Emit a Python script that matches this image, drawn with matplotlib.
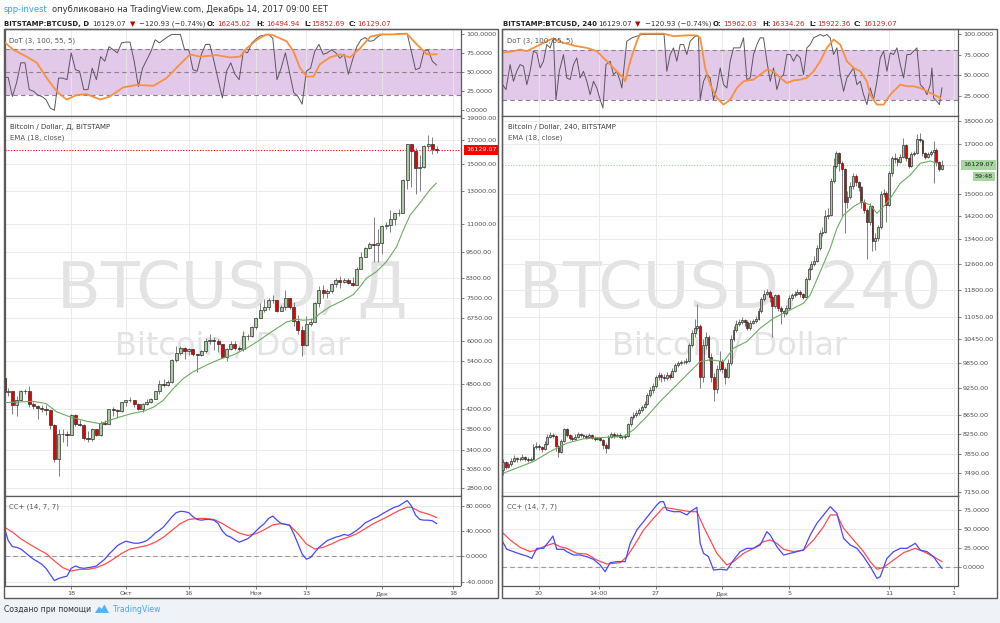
import matplotlib
matplotlib.use('Agg')
import matplotlib.pyplot as plt
import matplotlib.transforms as mtransforms
from matplotlib.patches import Rectangle, Polygon
from matplotlib.ticker import NullLocator
import numpy as np

W, H = 1000, 623

# ---------------- left chart: BTCUSD daily, Sep 2 .. Dec 14 ----------------
l_open0 = 4950
l_close = [4600, 4620, 4300, 4420, 4620, 4620, 4320, 4280, 4240, 4200,
           4180, 3880, 3240, 3700, 3700, 3680, 4090, 3900, 3870, 3620,
           3610, 3790, 3680, 3920, 3890, 4200, 4190, 4160, 4360,
           4400, 4400, 4310, 4220, 4320, 4370, 4440, 4610, 4780, 4770,
           4830, 5440, 5640, 5780, 5700, 5740, 5600, 5580, 5700, 6000,
           6010, 5980, 5900, 5520, 5740, 5890, 5780, 5740, 6140, 6130,
           6450, 6750, 7030, 7160, 7400, 7390, 6990, 7130, 7470, 7160,
           6640, 6350, 5870, 6530, 6600, 7280, 7800, 7700, 7780, 8030,
           8210, 8150, 8230, 8100, 8000, 8700, 9280, 9720, 9890, 9850,
           9950, 10850, 10930, 11290, 11600, 11650, 13800, 16620, 16000, 14700,
           14750, 16480, 16640, 16245.02, 16129.07]
l_high = [4980, 4700, 4620, 4500, 4650, 4680, 4730, 4370, 4300, 4300,
          4300, 4180, 3900, 3800, 3800, 3760, 4110, 4100, 3970, 3900,
          3750, 3820, 3790, 3950, 3980, 4210, 4250, 4200, 4370,
          4400, 4470, 4420, 4350, 4350, 4430, 4460, 4620, 4880, 4920,
          4880, 5450, 5850, 5850, 5800, 5780, 5760, 5600, 5720, 6070,
          6200, 6100, 6050, 5900, 5780, 5980, 5990, 5850, 6300, 6200,
          6470, 6760, 7300, 7450, 7470, 7600, 7410, 7200, 7800, 7490,
          7320, 6870, 6480, 6800, 6740, 7330, 7950, 8000, 7850, 8080,
          8300, 8370, 8300, 8300, 8330, 8770, 9500, 9750, 9980, 11400,
          10700, 10900, 11100, 11800, 11600, 11900, 13850, 16660, 16660, 16300,
          15700, 16550, 17400, 17200, 16494.94]
l_low = [4500, 4500, 4100, 4050, 4400, 4550, 4250, 4200, 4000, 4150,
         4080, 3800, 3200, 2980, 3550, 3480, 3680, 3850, 3850, 3580,
         3550, 3570, 3650, 3660, 3870, 3890, 4050, 4010, 4150,
         4280, 4370, 4250, 4180, 4150, 4300, 4340, 4430, 4560, 4720,
         4730, 4820, 5380, 5560, 5450, 5560, 5550, 5100, 5550, 5620,
         5900, 5710, 5650, 5480, 5400, 5720, 5710, 5680, 5700, 6020,
         6110, 6360, 6750, 6950, 7040, 7300, 6960, 6980, 7040, 7070,
         6480, 6220, 5550, 5850, 6460, 6600, 7130, 7500, 7500, 7680,
         7940, 7900, 8100, 8050, 7980, 8000, 8680, 9260, 9630, 9000,
         9000, 9380, 10700, 10550, 10900, 11450, 11650, 13200, 13300, 12800,
         13000, 14700, 16200, 15800, 15852.69]
l_ema_x = [0, 7, 10, 12.5, 15.7, 19.7, 22.9, 25.2, 27.6, 30.8, 33.2, 35.6, 37.9, 40.3,
           42.7, 45.1, 48.3, 51.4, 54.6, 57.8, 60.2, 62.5, 64.9, 67.3, 69.7, 71.3, 73.7,
           75.2, 77.6, 80.8, 83.2, 84.8, 86.3, 88.7, 91.1, 93.5, 95.1, 96.7, 99, 101.4, 102.9]
l_ema = [4350, 4380, 4330, 4150, 4040, 3950, 3900, 3970, 4040, 4120, 4160, 4250, 4400, 4680,
         4930, 5110, 5290, 5450, 5570, 5770, 5960, 6170, 6390, 6610, 6700, 6670, 6700,
         6900, 7150, 7400, 7620, 7940, 8290, 8580, 9040, 9770, 10650, 11500, 12240, 13110, 13570]
l_dot_fast = [43, 43, 18, 36, 62, 62, 27, 25, 20, 18,
              14, 3, 0, 42, 42, 40, 75, 53, 51, 27,
              27, 55, 40, 70, 64, 83, 79, 75, 88, 89,
              89, 64, 31, 55, 66, 77, 92, 88, 92, 96,
              99, 99, 99, 79, 79, 53, 51, 73, 86, 86,
              64, 40, 16, 51, 62, 47, 40, 77, 75, 88,
              93, 97, 98, 99, 94, 40, 55, 75, 49, 23,
              18, 8, 51, 55, 77, 86, 73, 75, 79, 75,
              68, 73, 47, 66, 83, 92, 95, 90, 91, 96,
              99, 99, 99, 99, 100, 100, 100, 77, 53, 55,
              77, 79, 64, 59]
l_dot_slow_x = [-1, 2.2, 5.4, 7.8, 10.2, 12.5, 14.9, 17.3, 19.7, 22.9,
                25.2, 28.4, 31.6, 35.6, 38.7, 41.9, 44.3, 46.7, 50.6, 53.8,
                56.2, 57.8, 60.2, 62.5, 64.1, 67.3, 68.9, 70.5, 72.1, 73.7,
                75.2, 77.6, 80.0, 82.4, 84.8, 87.2, 89.6, 92.7, 95.9, 98.3,
                100.7, 103]
l_dot_slow = [94, 79, 70, 62, 42, 25, 14, 20, 21, 14,
              18, 30, 33, 32, 42, 60, 73, 70, 72, 69,
              70, 81, 92, 99, 98, 90, 77, 55, 44, 44,
              60, 69, 73, 69, 81, 96, 99, 99, 100, 86,
              73, 73]
l_cc_fast = [46.8, 25.3, 15.6, 14.5, 11.8, 6.5, 1.1, -4.3, -8.1, -12.4,
             -18.8, -28.5, -38.2, -34.9, -32.8, -31.2, -18.8, -15.1, -17.7, -18.8,
             -17.7, -16.7, -15.1, -9.7, -4.3, 3.8, 10.2, 17.2, 21.0, 24.2,
             22.6, 21.0, 21.0, 22.6, 25.3, 30.6, 37.1, 41.4, 46.8, 54.8,
             62.9, 69.4, 71.5, 71.0, 69.4, 62.9, 58.6, 57.5, 58.6, 58.6,
             57.5, 52.2, 40.3, 33.3, 30.6, 26.3, 22.6, 25.3, 28.0, 33.3,
             40.3, 46.8, 52.2, 60.2, 64.0, 57.5, 52.2, 51.1, 49.5, 36.0,
             19.9, 3.8, -4.3, -1.6, 6.5, 14.5, 19.9, 25.3, 28.0, 30.6,
             32.3, 34.9, 33.3, 37.1, 41.4, 46.8, 53.2, 56.5, 60.2, 62.9,
             67.2, 71.0, 74.7, 78.0, 80.1, 84.4, 88.7, 80.1, 65.6, 58.6,
             57.5, 57.5, 56.5, 52.2]
l_cc_slow_x = list(range(0, 97, 2)) + [97, 99, 101, 103]
l_cc_slow = [46.8, 38.7, 28.0, 19.9, 11.8, 4.8, -7.0, -17.7, -23.1, -20.4,
             -20.4, -17.7, -12.4, -4.3, 4.8, 11.8, 14.5, 17.2, 22.6, 30.6,
             41.4, 52.2, 58.6, 60.2, 60.2, 58.6, 52.2, 44.1, 37.1, 33.3,
             36.0, 42.5, 50.0, 52.2, 49.5, 36.0, 19.9, 11.8, 14.5, 19.9,
             26.3, 30.6, 36.0, 44.1, 52.2, 58.6, 65.6, 72.6, 78.0,
             78.0, 71.0, 67.2, 61.8]
l_price_ticks = [19000, 17000, 15000, 13000, 11000, 9500, 8300, 7500, 6750, 6000,
                 5400, 4800, 4200, 3800, 3400, 3080, 2800]
l_date_ticks = [16, 29, 44, 60, 72, 90, 107]
l_date_labels = ['18', 'Окт', '16', 'Ноя', '13', 'Дек', '18']

# ---------------- right chart: BTCUSD 240, Nov 17 20:00 .. Dec 14 ----------------
r_open0 = 7550
r_close = [7700, 7600, 7650, 7720, 7780, 7750, 7760, 7800, 7760, 7740,
           7760, 7990, 8010, 7980, 7950, 8050, 8200, 8230, 8210, 8000,
           7900, 8100, 8350, 8240, 8180, 8150, 8190, 8250, 8230, 8210,
           8200, 8230, 8180, 8150, 8170, 8130, 8020, 7970, 8200, 8260,
           8220, 8240, 8200, 8190, 8210, 8450, 8600, 8650, 8700, 8760,
           8830, 8900, 9100, 9200, 9300, 9500, 9550, 9520, 9480, 9560,
           9520, 9650, 9800, 9850, 9880, 9860, 9900, 10300, 10600, 10750,
           10800, 9500, 10300, 10500, 10000, 9500, 9220, 9700, 9900, 9700,
           9520, 9850, 10450, 10700, 10850, 10900, 10950, 10900, 10750, 10880,
           10920, 11000, 11200, 11550, 11700, 11750, 11600, 11350, 11650, 11300,
           11200, 11150, 11300, 11580, 11650, 11700, 11760, 11680, 11620, 12150,
           12450, 12600, 12700, 13100, 13600, 13650, 14200, 14250, 15500, 16100,
           16600, 16200, 15950, 14700, 14900, 15300, 15700, 15450, 15250, 14700,
           14400, 14000, 14550, 13350, 13450, 13800, 15000, 15050, 14600, 15800,
           16400, 16350, 16250, 16450, 16950, 16400, 16100, 16550, 16600, 17200,
           17150, 16600, 16450, 16550, 16650, 16750, 16250, 15962.03, 16129.07]
r_high = [7760, 7720, 7700, 7780, 7830, 7800, 7800, 7850, 7820, 7790,
          7800, 8050, 8080, 8040, 8000, 8100, 8260, 8290, 8270, 8230,
          8020, 8150, 8380, 8370, 8260, 8230, 8250, 8290, 8280, 8260,
          8250, 8270, 8250, 8210, 8200, 8200, 8150, 8060, 8230, 8300,
          8290, 8280, 8270, 8230, 8250, 8480, 8640, 8720, 8750, 8800,
          8880, 8950, 9150, 9280, 9380, 9560, 9620, 9600, 9580, 9620,
          9600, 9720, 9850, 9900, 9930, 9920, 9960, 10350, 10700, 11000,
          11400, 10850, 10450, 10650, 10550, 10100, 9600, 9800, 10150, 9950,
          9750, 9950, 10550, 10800, 10950, 11000, 11050, 11000, 10950, 10950,
          11000, 11080, 11280, 11620, 11800, 11850, 11800, 11650, 11700, 11700,
          11350, 11250, 11380, 11650, 11720, 11780, 11850, 11800, 11720, 12200,
          12500, 12700, 12850, 13200, 13700, 13800, 14400, 14500, 15600, 16400,
          16700, 16650, 16300, 16000, 15100, 15450, 15800, 15750, 15500, 15300,
          14800, 14500, 14650, 14600, 13600, 13900, 15100, 15200, 15100, 15900,
          16500, 16600, 16450, 16550, 17250, 17000, 16450, 16650, 16700, 17400,
          17450, 17200, 16650, 16650, 16750, 17100, 16800, 16300, 16334.26]
r_low = [7450, 7560, 7580, 7620, 7700, 7700, 7720, 7740, 7720, 7700,
         7720, 7740, 7950, 7940, 7900, 7930, 8030, 8170, 8180, 7920,
         7800, 7880, 8080, 8200, 8120, 8110, 8120, 8170, 8190, 8180,
         8160, 8170, 8150, 8110, 8120, 8100, 7950, 7870, 7950, 8170,
         8180, 8190, 8170, 8150, 8160, 8190, 8420, 8570, 8600, 8660,
         8720, 8800, 8870, 9050, 9150, 9260, 9450, 9400, 9420, 9440,
         9460, 9500, 9620, 9760, 9800, 9820, 9830, 9870, 10250, 10500,
         10700, 9250, 9400, 10200, 9900, 9400, 8950, 9150, 9650, 9600,
         9350, 9480, 9800, 10400, 10650, 10800, 10850, 10800, 10680, 10700,
         10850, 10880, 10950, 11150, 11500, 11650, 11450, 10500, 11300, 11200,
         10850, 11050, 11100, 11250, 11520, 11600, 11650, 11600, 11550, 11600,
         12100, 12400, 12550, 12650, 13050, 13500, 13600, 14100, 14200, 15400,
         16000, 15900, 14200, 13600, 14500, 14800, 15200, 15300, 15100, 14500,
         14300, 12750, 13900, 13000, 13050, 13350, 13750, 14900, 14000, 14550,
         15700, 16200, 16100, 16200, 16400, 16300, 16000, 16050, 16500, 16550,
         17050, 16500, 16350, 16400, 16500, 15400, 16100, 15900, 15922.36]
r_ema_x = [0.2, 11.0, 17.0, 23.0, 29.0, 35.0, 43.4, 47.0, 51.8, 56.6,
           62.6, 67.4, 71.0, 74.6, 79.4, 83.0, 87.8, 92.6, 97.4, 101.0,
           104.6, 108.2, 110.6, 114.2, 117.8, 120.2, 122.6, 126.2, 129.2, 132.2,
           134.6, 137.0, 139.4, 143.0, 146.6, 150.2, 153.8, 156.2]
r_ema = [7486, 7706, 7900, 8066, 8154, 8180, 8200, 8339, 8620, 8948,
         9327, 9641, 9884, 9925, 9884, 10217, 10388, 10739, 11009, 11146,
         11286, 11428, 11666, 12364, 13102, 13770, 14234, 14533, 14715, 14594,
         14294, 14533, 14837, 15403, 15723, 16187, 16281, 16187]
r_dot_fast_x = [-0.1, 1.1, 2.6, 3.8, 5.0, 6.2, 7.4, 8.6, 9.8, 11.0,
                12.2, 13.4, 14.6, 15.8, 17.0, 18.2, 19.1, 20.3, 21.8, 23.0,
                24.2, 25.4, 26.6, 27.8, 29.0, 30.2, 31.4, 32.6, 33.8, 35.0,
                36.0, 37.1, 38.6, 39.8, 41.0, 42.2, 42.8, 44.6, 46.4, 48.2,
                50.0, 51.8, 54.2, 56.6, 58.0, 59.0, 60.2, 61.4, 62.6, 63.8,
                65.0, 66.2, 67.4, 69.2, 70.4, 71.0, 72.2, 73.4, 74.6, 75.8,
                77.0, 78.2, 79.4, 80.6, 81.8, 83.0, 84.2, 85.4, 86.6, 87.8,
                89.0, 90.2, 91.4, 92.6, 93.8, 95.0, 96.2, 97.4, 98.6, 99.8,
                101.0, 102.2, 103.4, 104.6, 105.8, 107.0, 108.2, 109.4, 110.6, 111.8,
                113.0, 114.2, 115.4, 116.6, 117.8, 119.0, 120.2, 121.4, 122.6, 123.8,
                125.0, 126.2, 127.4, 128.6, 129.8, 131.0, 132.2, 133.4, 134.6, 135.8,
                137.0, 138.2, 139.4, 140.6, 141.8, 143.0, 144.2, 145.4, 146.6, 147.8,
                149.0, 150.2, 151.4, 152.6, 153.8, 154.4, 155.0, 156.2, 157.1, 158.0]
r_dot_fast = [39, 33, 63, 43, 55, 63, 61, 39, 55, 79,
              77, 59, 67, 87, 83, 95, 21, 55, 75, 47,
              45, 63, 71, 47, 55, 43, 27, 43, 35, 21,
              11, 63, 67, 51, 55, 43, 35, 91, 95, 97,
              99, 99, 99, 99, 99, 55, 75, 83, 67, 87,
              87, 75, 91, 97, 97, 21, 43, 51, 47, 21,
              35, 59, 39, 35, 67, 83, 83, 83, 95, 45,
              47, 75, 87, 95, 95, 67, 43, 59, 33, 47,
              51, 75, 75, 67, 75, 71, 51, 83, 87, 95,
              97, 99, 97, 99, 95, 75, 83, 51, 31, 47,
              53, 59, 39, 43, 27, 15, 35, 21, 43, 71,
              79, 55, 77, 75, 83, 63, 47, 75, 75, 79,
              83, 39, 35, 27, 39, 59, 23, 19, 15, 35]
r_dot_slow_x = [-1.0, 3.8, 6.2, 8.6, 11.0, 14.6, 17.0, 18.2, 21.8, 26.6,
                30.2, 33.8, 36.2, 38.6, 41.0, 43.4, 44.0, 45.8, 48.2, 49.4,
                57.8, 59.0, 61.4, 66.2, 69.8, 71.0, 72.8, 74.6, 77.0, 79.4,
                81.8, 84.2, 86.6, 90.2, 92.6, 95.0, 97.4, 99.8, 102.2, 104.6,
                107.0, 109.4, 111.8, 114.2, 116.6, 119.0, 121.4, 123.8, 126.2, 128.6,
                131.0, 132.2, 134.6, 137.0, 139.4, 141.8, 143.0, 145.4, 147.8, 150.2,
                152.6, 155.0, 157.4]
r_dot_slow = [77, 79, 81, 79, 83, 89, 93, 94, 89, 85,
              83, 79, 71, 63, 55, 47, 43, 67, 91, 100,
              100, 99, 97, 98, 98, 95, 59, 39, 23, 15,
              21, 35, 43, 45, 51, 57, 55, 47, 41, 44,
              45, 47, 55, 67, 83, 93, 87, 67, 59, 55,
              43, 27, 15, 15, 27, 35, 39, 37, 37, 35,
              31, 27, 23]
r_cc_fast_x = [-0.1, 1.4, 3.8, 6.2, 8.6, 10.4, 12.2, 14.6, 17.0, 18.0,
               19.4, 21.8, 23.0, 25.4, 27.8, 30.2, 32.6, 35.0, 36.8, 38.6,
               41.0, 44.0, 45.8, 48.2, 50.6, 53.0, 55.4, 56.6, 57.8, 59.0,
               61.4, 63.8, 66.2, 67.4, 69.8, 71.0, 72.2, 74.0, 75.8, 78.2,
               80.6, 83.0, 85.4, 87.8, 90.2, 92.6, 95.0, 96.2, 98.6, 101.0,
               103.4, 105.8, 108.2, 110.6, 113.0, 115.4, 117.8, 120.2, 122.6, 125.0,
               127.4, 129.8, 132.2, 134.6, 135.8, 138.2, 140.6, 143.0, 145.4, 148.4,
               150.2, 152.6, 155.0, 156.2, 158.0]
r_cc_fast = [33.8, 23.7, 20.6, 17.5, 14.9, 11.8, 25.0, 25.0, 36.0, 41.2,
             23.7, 23.7, 20.6, 16.2, 16.2, 14.0, 10.5, 3.1, -5.7, 6.1,
             7.5, 7.5, 31.6, 49.1, 60.1, 71.1, 82.0, 86.4, 86.4, 75.4,
             73.2, 73.2, 68.9, 73.2, 78.9, 31.6, 18.4, 14.0, -3.5, -2.6,
             -3.5, 9.6, 20.6, 25.0, 25.0, 29.4, 46.9, 42.5, 27.2, 16.2,
             18.4, 20.6, 22.8, 42.5, 57.9, 68.9, 79.8, 71.1, 38.2, 29.4,
             25.0, 14.0, 0.9, -14.5, -12.3, 11.8, 20.6, 25.0, 25.0, 31.6,
             22.8, 20.6, 14.0, 7.5, -1.3]
r_cc_slow_x = [-0.1, 2.6, 6.2, 9.8, 12.2, 14.6, 18.2, 20.6, 23.0, 26.6,
               30.2, 33.8, 37.4, 42.2, 44.6, 47.0, 50.6, 54.2, 57.8, 60.2,
               63.8, 67.4, 69.8, 72.2, 74.6, 77.0, 80.6, 83.0, 86.6, 90.2,
               93.8, 96.2, 98.6, 101.0, 104.6, 108.2, 111.8, 115.4, 117.8, 120.2,
               122.6, 126.2, 129.8, 132.2, 134.6, 137.0, 140.6, 144.2, 148.4, 151.4,
               155.0, 158.0]
r_cc_slow = [45.6, 36.0, 26.3, 20.6, 22.8, 27.2, 31.6, 27.2, 25.0, 18.4,
             17.5, 9.6, 4.4, 6.1, 14.0, 27.2, 49.1, 64.5, 78.9, 77.6,
             75.4, 73.2, 73.2, 53.5, 36.0, 18.4, 3.1, 7.5, 18.4, 25.0,
             33.8, 36.0, 31.6, 23.7, 20.6, 22.8, 36.0, 53.5, 68.9, 68.9,
             51.3, 36.0, 20.6, 7.5, -2.6, 0.0, 9.6, 19.3, 25.0, 20.6,
             14.0, 7.5]
r_price_ticks = [18000, 17000, 15000, 14200, 13400, 12600, 11800, 11050, 10450, 9850,
                 9250, 8650, 8250, 7850, 7490, 7150]
r_date_ticks = [13, 34.5, 55, 79, 103, 139, 162.2]
r_date_labels = ['20', '14:00', '27', 'Дек', '5', '11', '1']

last_price = 16129.07


def frame(x0, y0, x1, y1):
    """Pixel box (top-left origin) -> figure fraction rect."""
    return [x0 / W, 1 - y1 / H, (x1 - x0) / W, (y1 - y0) / H]


def ftext(fig, x, y, s, **kw):
    kw.setdefault('fontsize', 5)
    kw.setdefault('color', '#333333')
    ha = kw.pop('ha', 'left')
    return fig.text(x / W, 1 - y / H, s, va='center', ha=ha, **kw)


def style_pane(ax, xlim, xticks):
    ax.set_xlim(*xlim)
    ax.set_xticks(xticks)
    ax.grid(True, axis='x', color='#e8e8e8', lw=0.6)
    ax.set_axisbelow(True)
    for s in ax.spines.values():
        s.set_color('#5b5b5b')
        s.set_linewidth(0.9)
    ax.yaxis.tick_right()
    ax.tick_params(axis='y', which='both', direction='out', length=2.5, width=0.5,
                   pad=1.5, labelsize=4.6, colors='#4d4d4d')
    ax.tick_params(axis='x', length=0, labelbottom=False)


def draw_candles(ax, open0, closes, highs, lows, width):
    c = np.array(closes, dtype=float)
    o = np.concatenate([[open0], c[:-1]])
    x = np.arange(len(c))
    up = c >= o
    lo = np.minimum(o, c)
    hi = np.maximum(o, c)
    ax.vlines(x, lows, highs, color='#7d7d7d', lw=0.7, zorder=2)
    ax.bar(x[up], hi[up] - lo[up], bottom=lo[up], width=width, color='#a9cca3',
           edgecolor='#2e2e2e', linewidth=0.5, zorder=3)
    ax.bar(x[~up], hi[~up] - lo[~up], bottom=lo[~up], width=width, color='#e60000',
           edgecolor='#2e2e2e', linewidth=0.5, zorder=3)


def draw_panel(fig, x0, x1, p):
    ax_dot = fig.add_axes(frame(x0, 29, x1, 115.5))
    ax_px = fig.add_axes(frame(x0, 115.5, x1, 495.5))
    ax_cc = fig.add_axes(frame(x0, 495.5, x1, 585.5))

    # --- DoT oscillator ---
    style_pane(ax_dot, p['xlim'], p['xticks'])
    ax_dot.set_ylim(*p['dot_ylim'])
    ax_dot.axhspan(20, 80, color='#e3c9e9', lw=0, zorder=0.2)
    for lvl in (80, 50, 20):
        ax_dot.axhline(lvl, color='#8a818f', lw=0.8, ls=(0, (4, 3)), zorder=1)
    ax_dot.plot(p['dot_fast_x'], p['dot_fast'], color='#5b5660', lw=0.7, zorder=2)
    ax_dot.plot(p['dot_slow_x'], p['dot_slow'], color='#f7913c', lw=1.3, zorder=3)
    ax_dot.set_yticks(p['dot_ticks'], labels=[f'{v:.4f}' for v in p['dot_ticks']])

    # --- price pane ---
    ax_px.set_yscale('log')
    style_pane(ax_px, p['xlim'], p['xticks'])
    ax_px.set_ylim(*p['px_ylim'])
    ax_px.set_yticks(p['px_ticks'], labels=[f'{v:.2f}' for v in p['px_ticks']])
    ax_px.yaxis.set_minor_locator(NullLocator())
    ax_px.grid(True, axis='y', color='#e8e8e8', lw=0.6)
    ax_px.text(0.5, 0.493, p['wm1'], transform=ax_px.transAxes, ha='center',
               va='baseline', fontsize=46, color='#e3e3e3', zorder=0.1)
    ax_px.text(0.5, 0.37, 'Bitcoin / Dollar', transform=ax_px.transAxes, ha='center',
               va='baseline', fontsize=23, color='#e3e3e3', zorder=0.1)
    draw_candles(ax_px, p['open0'], p['close'], p['high'], p['low'], p['body_w'])
    ax_px.plot(p['ema_x'], p['ema'], color='#6daa62', lw=0.8, zorder=4)
    ax_px.axhline(last_price, color=p['last_line'], lw=0.8, ls=(0, (1, 1.5)), zorder=1.5)
    blend = mtransforms.blended_transform_factory(ax_px.transAxes, ax_px.transData)
    ax_px.text(1.012, last_price, f'{last_price:.2f}', transform=blend, ha='left', va='center',
               fontsize=4.6, color=p['last_fg'], clip_on=False, zorder=10,
               bbox=dict(boxstyle='square,pad=0.35', fc=p['last_bg'], ec='none'))

    # --- CC+ oscillator ---
    style_pane(ax_cc, p['xlim'], p['xticks'])
    ax_cc.set_ylim(*p['cc_ylim'])
    ax_cc.set_yticks(p['cc_ticks'], labels=[f'{v:.4f}' for v in p['cc_ticks']])
    ax_cc.grid(True, axis='y', color='#e8e8e8', lw=0.6)
    ax_cc.axhline(0, color='#999999', lw=0.8, ls=(0, (4, 3)), zorder=1)
    ax_cc.plot(p['cc_slow_x'], p['cc_slow'], color='#ff4d4d', lw=0.9, zorder=2)
    ax_cc.plot(p['cc_fast_x'], p['cc_fast'], color='#4747ff', lw=0.9, zorder=3)
    ax_cc.set_xticks(p['xticks'], labels=p['xlabels'])
    ax_cc.tick_params(axis='x', length=2.5, width=0.5, labelbottom=True, labelsize=4.6,
                      pad=1.5, colors='#4d4d4d')

    # panel frame
    fig.add_artist(Rectangle((p['frame'][0] / W, 1 - 598 / H), (p['frame'][1] - p['frame'][0]) / W,
                             569 / H, transform=fig.transFigure, fill=False, ec='#5b5b5b', lw=1, zorder=20))
    return ax_px


def main():
    fig = plt.figure(figsize=(10, 6.23), dpi=100)
    fig.patch.set_facecolor('#eff2f6')
    fig.add_artist(Rectangle((0, 1 - 599 / H), 1, 599 / H, transform=fig.transFigure,
                             fc='white', ec='none', zorder=-10))

    left = dict(xlim=(0.12, 108.7), xticks=l_date_ticks, xlabels=l_date_labels,
                dot_ylim=(-6.8, 106.1), dot_ticks=[100, 75, 50, 25, 0],
                dot_fast_x=np.arange(len(l_dot_fast)), dot_fast=l_dot_fast,
                dot_slow_x=l_dot_slow_x, dot_slow=l_dot_slow,
                px_ylim=(2688, 19278), px_ticks=l_price_ticks, wm1='BTCUSD, Д',
                open0=l_open0, close=l_close, high=l_high, low=l_low, body_w=0.72,
                ema_x=l_ema_x, ema=l_ema,
                last_line='#ff0000', last_fg='white', last_bg='#ff0000',
                cc_ylim=(-46.0, 96.6), cc_ticks=[80, 40, 0, -40],
                cc_fast_x=np.arange(len(l_cc_fast)), cc_fast=l_cc_fast,
                cc_slow_x=l_cc_slow_x, cc_slow=l_cc_slow, frame=(4, 498))
    right = dict(xlim=(-0.14, 163.6), xticks=r_date_ticks, xlabels=r_date_labels,
                 dot_ylim=(2.0, 105.6), dot_ticks=[100, 75, 50, 25],
                 dot_fast_x=r_dot_fast_x, dot_fast=r_dot_fast,
                 dot_slow_x=r_dot_slow_x, dot_slow=r_dot_slow,
                 px_ylim=(7081, 18234), px_ticks=r_price_ticks, wm1='BTCUSD, 240',
                 open0=r_open0, close=r_close, high=r_high, low=r_low, body_w=0.68,
                 ema_x=r_ema_x, ema=r_ema,
                 last_line='#9fd39b', last_fg='#1e1e1e', last_bg='#a6d7a0',
                 cc_ylim=(-23.9, 94.5), cc_ticks=[75, 50, 25, 0],
                 cc_fast_x=r_cc_fast_x, cc_fast=r_cc_fast,
                 cc_slow_x=r_cc_slow_x, cc_slow=r_cc_slow, frame=(502, 997))

    draw_panel(fig, 4.5, 460.5, left)
    ax_r = draw_panel(fig, 502.5, 957.5, right)
    blend = mtransforms.blended_transform_factory(ax_r.transAxes, ax_r.transData)
    ax_r.annotate('59:48', xy=(1.0, last_price), xycoords=blend, xytext=(12.5, -8.6),
                  textcoords='offset points', ha='left', va='center', fontsize=4.6,
                  color='#1e1e1e', annotation_clip=False, zorder=10,
                  bbox=dict(boxstyle='square,pad=0.35', fc='#a6d7a0', ec='none'))

    # header
    ftext(fig, 4, 9.5, 'spp-invest', fontsize=6, color='#2ea3e3')
    ftext(fig, 52, 9.5, 'опубликовано на TradingView.com, Декабрь 14, 2017 09:00 EET', fontsize=6)
    hdr_l = [(4, 'BITSTAMP:BTCUSD, D', '#222222', 'bold'), (92, '16129.07', '#333333', 'normal'),
             (130, '▼', '#c40000', 'normal'), (139, '−120.93 (−0.74%)', '#333333', 'normal'),
             (207, 'O:', '#222222', 'bold'), (217, '16245.02', '#c62828', 'normal'),
             (256, 'H:', '#222222', 'bold'), (266, '16494.94', '#c62828', 'normal'),
             (304, 'L:', '#222222', 'bold'), (311, '15852.69', '#c62828', 'normal'),
             (349, 'C:', '#222222', 'bold'), (357, '16129.07', '#c62828', 'normal')]
    hdr_r = [(503, 'BITSTAMP:BTCUSD, 240', '#222222', 'bold'), (598, '16129.07', '#333333', 'normal'),
             (635, '▼', '#c40000', 'normal'), (645, '−120.93 (−0.74%)', '#333333', 'normal'),
             (713, 'O:', '#222222', 'bold'), (723, '15962.03', '#c62828', 'normal'),
             (762, 'H:', '#222222', 'bold'), (771, '16334.26', '#c62828', 'normal'),
             (809, 'L:', '#222222', 'bold'), (817, '15922.36', '#c62828', 'normal'),
             (854, 'C:', '#222222', 'bold'), (863, '16129.07', '#c62828', 'normal')]
    for x, s, col, wt in hdr_l + hdr_r:
        ftext(fig, x, 24, s, color=col, fontweight=wt)

    # pane titles
    for x0, sym in ((10, 'Bitcoin / Dollar, Д, BITSTAMP'), (508, 'Bitcoin / Dollar, 240, BITSTAMP')):
        ftext(fig, x0 - 1, 40.7, 'DoT (3, 100, 55, 5)', color='#555555')
        ftext(fig, x0, 126.5, sym, color='#3a3a3a')
        ftext(fig, x0, 137.7, 'EMA (18, close)', color='#555555')
        ftext(fig, x0 - 1, 506.8, 'CC+ (14, 7, 7)', color='#555555')

    # footer
    ftext(fig, 4, 609, 'Создано при помощи', fontsize=5.6, color='#333333')
    logo = [(95, 613), (99, 606.5), (101.5, 609), (104.5, 604.5), (109, 613)]
    fig.add_artist(Polygon([(x / W, 1 - y / H) for x, y in logo], closed=True,
                           transform=fig.transFigure, fc='#55b4ea', ec='none'))
    ftext(fig, 113, 609, 'TradingView', fontsize=5.6, color='#4aa8e8')

    fig.savefig('out.png', dpi=100, facecolor=fig.get_facecolor())
    plt.close(fig)


if __name__ == '__main__':
    main()
